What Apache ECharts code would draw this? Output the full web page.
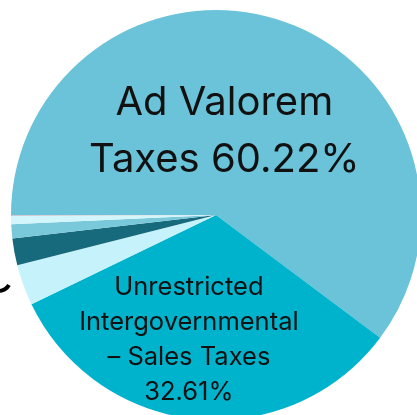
<!DOCTYPE html>
<html>
<head>
<meta charset="utf-8">
<script src="https://cdn.jsdelivr.net/npm/echarts@6/dist/echarts.min.js"></script>
<style>html,body{margin:0;padding:0;background:#fff}#c{width:417px;height:415px}</style>
</head>
<body>
<div id="c"></div>
<script>
const categories = [
  'Ad Valorem Taxes',
  'Unrestricted Intergovernmental – Sales Taxes',
  'Other 1',
  'Other 2',
  'Other 3',
  'Other 4',
  'Other 5'
];
const values = [60.22, 32.61, 3.22, 2.12, 1.12, 0.63, 0.08];
const colors = ['#6AC3D9', '#00B3CC', '#C6F3FB', '#176A7B', '#7AC9DA', '#D3F5FC', '#CFC8D2'];
const labelTexts = ['Ad Valorem\nTaxes 60.22%', 'Unrestricted\nIntergovernmental\n– Sales Taxes\n32.61%'];

const font = 'Inter, "Noto Sans", sans-serif';
const data = categories.map((name, i) => {
  const d = { name, value: values[i], itemStyle: { color: colors[i] } };
  if (i === 0) {
    d.label = { show: true, position: 'inside', formatter: labelTexts[0], fontSize: 40, lineHeight: 57,
      color: '#111', fontFamily: font, offset: [-25, 17], align: 'center' };
  } else if (i === 1) {
    d.label = { show: true, position: 'inside', formatter: labelTexts[1], fontSize: 25.5, lineHeight: 35,
      color: '#111', fontFamily: font, offset: [-17, 20], align: 'center' };
  } else {
    d.label = { show: false };
  }
  return d;
});

const chart = echarts.init(document.getElementById('c'), null, { renderer: 'canvas' });
chart.setOption({
  animation: false,
  series: [{
    type: 'pie',
    center: [216, 215],
    radius: 205,
    startAngle: 180,
    clockwise: true,
    data,
    labelLine: { show: false },
    itemStyle: { borderWidth: 0 },
    emphasis: { disabled: true }
  }],
  graphic: [{
    type: 'bezierCurve',
    shape: { x1: 9, y1: 285, x2: 0, y2: 291, cpx1: 6, cpy1: 290 },
    style: { stroke: '#000', lineWidth: 4, fill: null }
  }]
});
</script>
</body>
</html>
